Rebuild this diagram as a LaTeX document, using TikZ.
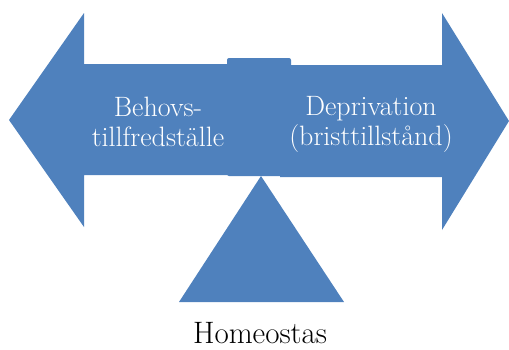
\documentclass[tikz,border=0pt]{standalone}
\usetikzlibrary{positioning}

\definecolor{balblue}{HTML}{4F81BD}

\tikzset{
    balshape/.style={fill=balblue, draw=none},
    armtext/.style={text=white, align=center, font=\fontsize{28}{30}\selectfont},
}

\begin{document}
\begin{tikzpicture}[x=1pt, y=-1pt]
\useasboundingbox (0,0) rectangle (509,349);

% the two arrows of the balance
\fill[balblue] (9,120) -- (84,13) -- (84,64) -- (240,64) -- (240,175) -- (84,175) -- (84,227) -- cycle;
\fill[balblue] (509,121) -- (442,13) -- (442,65) -- (280,65) -- (280,177) -- (442,177) -- (442,230) -- cycle;

\begin{scope}[every node/.style={armtext}]
    \node (behov) at (158, 122) {Behovs-\\tillfredställe};
    \node (depriv) at (371, 124) {Deprivation\\(bristtillstånd)};
\end{scope}

% the middle block and the pivot
\node (pivot) at (259, 117) [balshape, rounded corners=2pt, minimum width=64pt, minimum height=118pt, inner sep=0pt] {};
\fill[balblue] (261,176) -- (344,302) -- (179,302) -- cycle;

\node (homeo) at (260, 343) [anchor=base, inner sep=0pt, font=\fontsize{31}{34}\selectfont] {Homeostas};
\end{tikzpicture}
\end{document}
